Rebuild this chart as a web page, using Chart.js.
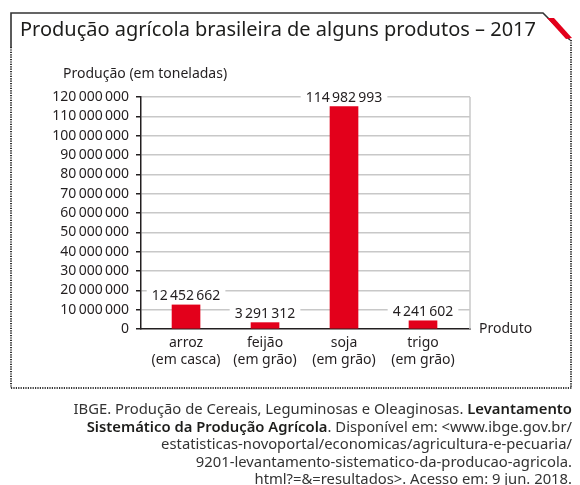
<!DOCTYPE html>
<html lang="pt-BR">
<head>
<meta charset="utf-8">
<script src="https://cdn.jsdelivr.net/npm/chart.js@4/dist/chart.umd.min.js"></script>
<style>
  html, body { margin: 0; padding: 0; background: #fff; }
  #wrap { position: relative; width: 580px; height: 485px; overflow: hidden; font-family: "Noto Sans", sans-serif; color: #231f20; }
  #frame { position: absolute; left: 0; top: 0; }
  #chart { position: absolute; left: 0; top: 0; }
  .title { position: absolute; left: 20px; top: 16px; font-size: 20px; line-height: 26px; white-space: nowrap; color: #1d1d1b; }
  .ytitle { position: absolute; left: 63px; top: 63px; font-size: 14px; line-height: 20px; white-space: nowrap; }
  .xtitle { position: absolute; left: 479px; top: 318px; font-size: 14px; line-height: 20px; white-space: nowrap; }
  .source { position: absolute; right: 8px; top: 400px; font-size: 14.8px; line-height: 17.5px; text-align: right; white-space: nowrap; color: #333; }
  .source b { font-weight: 600; color: #1d1d1b; }
</style>
</head>
<body>
<div id="wrap">
  <svg id="frame" width="580" height="485">
    <polyline points="11,47 11,13 543,13 570,40" fill="none" stroke="#333" stroke-width="1.6"/>
    <polygon points="547,18 554,18 572,38 566,39" fill="#e3001b"/>
    <line x1="11" y1="47" x2="11" y2="388" stroke="#333" stroke-width="2" stroke-dasharray="1.2,1.2"/>
    <line x1="571" y1="40" x2="571" y2="388" stroke="#333" stroke-width="2" stroke-dasharray="1.2,1.2"/>
    <line x1="11" y1="388" x2="572" y2="388" stroke="#333" stroke-width="2" stroke-dasharray="1.2,1.2"/>
  </svg>
  <canvas id="chart" width="580" height="485"></canvas>
  <div class="title">Produção agrícola brasileira de alguns produtos – 2017</div>
  <div class="ytitle">Produção (em toneladas)</div>
  <div class="xtitle">Produto</div>
  <div class="source">
    IBGE. Produção de Cereais, Leguminosas e Oleaginosas. <b>Levantamento</b><br>
    <b>Sistemático da Produção Agrícola</b>. Disponível em: &lt;www.ibge.gov.br/<br>
    estatisticas-novoportal/economicas/agricultura-e-pecuaria/<br>
    9201-levantamento-sistematico-da-producao-agricola.<br>
    html?=&amp;=resultados&gt;. Acesso em: 9 jun. 2018.
  </div>
</div>
<script>
// Produção agrícola brasileira (toneladas) - 2017
const categories = [
    ['arroz', '(em casca)'],
    ['feijão', '(em grão)'],
    ['soja', '(em grão)'],
    ['trigo', '(em grão)']
];
const production = [12452662, 3291312, 114982993, 4241602];
const yTicks = [0, 10000000, 20000000, 30000000, 40000000, 50000000, 60000000,
    70000000, 80000000, 90000000, 100000000, 110000000, 120000000];

const TEXT = '#231f20';
const FONT = '"Noto Sans", sans-serif';

// groups of three digits separated by a thin space
function fmt(v) {
    return String(Math.round(v)).replace(/\B(?=(\d{3})+(?!\d))/g, '\u2009');
}

// value labels on a white box above each bar + right edge of the plot
const barLabels = {
    id: 'barLabels',
    beforeDatasetsDraw(chart) {
        const { ctx, chartArea } = chart;
        ctx.save();
        ctx.strokeStyle = '#c8c8c8';
        ctx.lineWidth = 1.5;
        ctx.beginPath();
        ctx.moveTo(chartArea.right, chartArea.top);
        ctx.lineTo(chartArea.right, chartArea.bottom);
        ctx.stroke();
        ctx.restore();
    },
    afterDatasetsDraw(chart) {
        const { ctx } = chart;
        const meta = chart.getDatasetMeta(0);
        ctx.save();
        ctx.font = '14px ' + FONT;
        ctx.textAlign = 'center';
        ctx.textBaseline = 'middle';
        meta.data.forEach((bar, i) => {
            const txt = fmt(production[i]);
            const w = ctx.measureText(txt).width;
            const y = bar.y - 10;
            ctx.fillStyle = '#fff';
            ctx.fillRect(bar.x - w / 2 - 5, y - 7, w + 10, 14);
            ctx.fillStyle = TEXT;
            ctx.fillText(txt, bar.x, y + 1);
        });
        ctx.restore();
    }
};

new Chart(document.getElementById('chart'), {
    type: 'bar',
    data: {
        datasets: [{
            data: production.map((v, i) => ({ x: i, y: v })),
            backgroundColor: '#e3001b',
            borderWidth: 0,
            barThickness: 28
        }]
    },
    plugins: [barLabels],
    options: {
        responsive: false,
        animation: false,
        layout: { padding: { left: 0, top: 97, right: 110, bottom: 111 } },
        plugins: {
            legend: { display: false },
            tooltip: { enabled: false },
            title: { display: false }
        },
        scales: {
            x: {
                type: 'linear',
                min: -0.57,
                max: 3.595,
                offset: false,
                grid: { display: false, drawTicks: false },
                border: { color: TEXT, width: 1.5 },
                afterFit: (scale) => { scale.height = 45; },
                afterBuildTicks: (scale) => {
                    scale.ticks = categories.map((c, i) => ({ value: i }));
                },
                ticks: {
                    autoSkip: false,
                    maxRotation: 0,
                    padding: 5,
                    color: TEXT,
                    font: { family: FONT, size: 14, lineHeight: 1.25 },
                    callback: (v) => categories[v] || ''
                }
            },
            y: {
                min: 0,
                max: 120000000,
                afterFit: (scale) => { scale.width = 141; },
                afterBuildTicks: (scale) => {
                    scale.ticks = yTicks.map(v => ({ value: v }));
                },
                grid: {
                    color: (c) => c.tick && c.tick.value === 0 ? 'transparent' : '#c8c8c8',
                    lineWidth: 1.5,
                    tickColor: TEXT,
                    tickLength: 5
                },
                border: { color: TEXT, width: 1.5 },
                ticks: {
                    autoSkip: false,
                    padding: 7,
                    color: TEXT,
                    font: { family: FONT, size: 14 },
                    callback: (v) => fmt(v)
                }
            }
        }
    }
});
</script>
</body>
</html>
